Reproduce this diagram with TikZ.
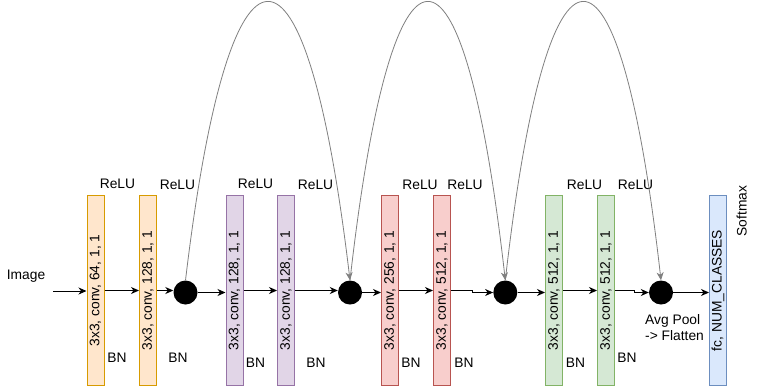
\documentclass[tikz,border=0pt]{standalone}
\usepackage{graphicx}
\usepackage{fontspec}
\setmainfont{Liberation Sans}
\usetikzlibrary{arrows.meta}
\definecolor{orF}{HTML}{FFE6CC}\definecolor{orD}{HTML}{D79B00}
\definecolor{puF}{HTML}{E1D5E7}\definecolor{puD}{HTML}{9673A6}
\definecolor{reF}{HTML}{F8CECC}\definecolor{reD}{HTML}{B85450}
\definecolor{grF}{HTML}{D5E8D4}\definecolor{grD}{HTML}{82B366}
\definecolor{blF}{HTML}{DAE8FC}\definecolor{blD}{HTML}{6C8EBF}
\definecolor{arcG}{HTML}{808080}
\begin{document}
\begin{tikzpicture}[x=1pt,y=-1pt,
  font=\fontsize{13.8}{16}\selectfont,
  layer/.style={draw=#1D, fill=#1F, line width=1pt, minimum width=17pt,
    minimum height=190pt, inner sep=0pt},
  joint/.style={circle, fill=black, minimum size=24pt, inner sep=0pt},
  lbl/.style={inner sep=0pt},
  arr/.style={line width=1pt, -{Stealth[length=8pt,width=7pt,inset=2.5pt]}},
  skip/.style={draw=arcG, line width=0.8pt, -{Stealth[length=8pt,width=7pt,inset=2.5pt]}}]
\useasboundingbox (0,0) rectangle (775,391);
\fill[white] (0,0) rectangle (775,391);
% layers
\node[layer=or] (b1) at (95.5,290.5) {\rotatebox{90}{3x3, conv, 64, 1, 1}};
\node[layer=or] (b2) at (148,290.5) {\rotatebox{90}{3x3, conv, 128, 1, 1}};
\node[layer=pu] (b3) at (234.5,290.5) {\rotatebox{90}{3x3, conv, 128, 1, 1}};
\node[layer=pu] (b4) at (286,290.5) {\rotatebox{90}{3x3, conv, 128, 1, 1}};
\node[layer=re] (b5) at (390,290.5) {\rotatebox{90}{3x3, conv, 256, 1, 1}};
\node[layer=re] (b6) at (442,290.5) {\rotatebox{90}{3x3, conv, 512, 1, 1}};
\node[layer=gr] (b7) at (554,290.5) {\rotatebox{90}{3x3, conv, 512, 1, 1}};
\node[layer=gr] (b8) at (606,290.5) {\rotatebox{90}{3x3, conv, 512, 1, 1}};
\node[layer=bl] (b9) at (718,290.5) {\rotatebox{90}{fc, NUM\_CLASSES}};
% joints
\node[joint] (c1) at (185.5,292.5) {};
\node[joint] (c2) at (350,292.5) {};
\node[joint] (c3) at (505.3,292.5) {};
\node[joint] (c4) at (661,292.5) {};
% labels
\node[lbl] (img) at (26,276) {Image};
\node[lbl] (r1) at (117.5,183.5) {ReLU};
\node[lbl] (r2) at (177.5,184.5) {ReLU};
\node[lbl] (r3) at (255.5,183.5) {ReLU};
\node[lbl] (r4) at (315.5,184.5) {ReLU};
\node[lbl] (r5) at (420,184.5) {ReLU};
\node[lbl] (r6) at (465,184.5) {ReLU};
\node[lbl] (r7) at (584.5,184.5) {ReLU};
\node[lbl] (r8) at (635.5,184.5) {ReLU};
\node[lbl] (n1) at (117,358) {BN};
\node[lbl] (n2) at (178,358) {BN};
\node[lbl] (n3) at (255.5,363) {BN};
\node[lbl] (n4) at (316,363) {BN};
\node[lbl] (n5) at (411,363) {BN};
\node[lbl] (n6) at (464,363) {BN};
\node[lbl] (n7) at (575.5,363) {BN};
\node[lbl] (n8) at (627,358) {BN};
\node[lbl, align=left, anchor=west] (pool) at (645,327.5) {Avg Pool\\-> Flatten};
\node[lbl] (soft) at (741.7,211) {\rotatebox{90}{Softmax}};
% main connectors
\coordinate (in) at (53,291);
\draw[arr] (in) -- (in -| b1.west);
\draw[arr] (b1.east) -- (b2.west);
\draw[arr] (b2.east) -- (b2.east -| c1.west);
\draw[arr] (c1.east) -- (c1.east -| b3.west);
\draw[arr] (b3.east) -- (b4.west);
\draw[arr] (b4.east) -- (b4.east -| c2.west);
\draw[arr] (c2.east) -- (c2.east -| b5.west);
\draw[arr] (b5.east) -- (b6.west);
\draw[arr] (b6.east) -- ++(21,0) |- (c3.west);
\draw[arr] (c3.east) -- (c3.east -| b7.west);
\draw[arr] (b7.east) -- (b8.west);
\draw[arr] (b8.east) -- ++(19,0) |- (c4.west);
\draw[arr] (c4.east) -- (c4.east -| b9.west);
% skip connections
\draw[skip] (c1.north) .. controls +(44,-371) and +(-44,-371) .. (c2.north);
\draw[skip] (c2.north) .. controls +(42,-371) and +(-42,-371) .. (c3.north);
\draw[skip] (c3.north) .. controls +(42,-371) and +(-42,-371) .. (c4.north);
\end{tikzpicture}
\end{document}
